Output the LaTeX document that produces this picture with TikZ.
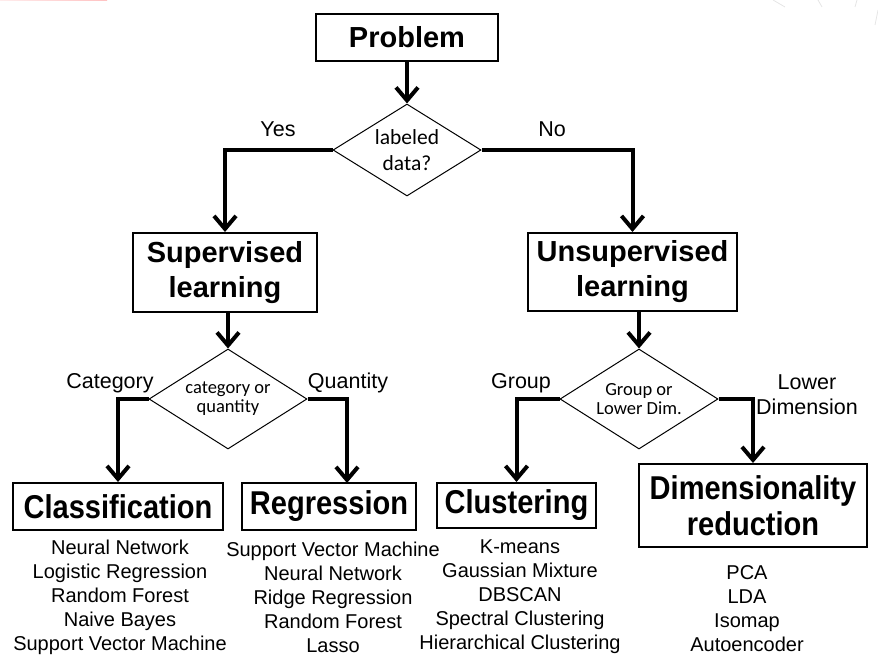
\documentclass[tikz,border=0pt]{standalone}
\usepackage{fontspec}
\setmainfont{Liberation Sans}
\newfontfamily\calibfont{Carlito}
\newfontfamily\tallfont[FakeStretch=0.88]{Liberation Sans}
\usetikzlibrary{shapes.geometric,arrows.meta}
\newcommand{\boxfont}{\fontsize{29}{35}\selectfont\bfseries}
\newcommand{\tallboxfont}{\tallfont\fontsize{33}{36}\selectfont\bfseries}
\newcommand{\diafont}{\calibfont\fontsize{18.5}{19}\selectfont}

\begin{document}
\begin{tikzpicture}[x=1pt,y=1pt,
	box/.style={draw, line width=2pt, inner sep=0pt, align=center, font=\boxfont},
	tallbox/.style={box, font=\tallboxfont},
	dia/.style={draw, diamond, line width=1pt, inner sep=0pt, minimum width=158pt, minimum height=100pt},
	diatext/.style={align=center, font=\diafont},
	answer/.style={align=center, font=\fontsize{21.5}{25}\selectfont},
	methods/.style={align=center, font=\fontsize{20}{24}\selectfont},
	flow/.style={line width=4pt, -{Straight Barb[length=13pt,width=22pt]}}]
	\useasboundingbox (0,0) rectangle (878,-661);

	% faint marks of the slide
	\shade[left color=pink!30, right color=pink!80!red!60] (0,0) rectangle (107,-0.9);
	\draw[gray!20, line width=0.8pt] (773,0) -- (785,-7);
	\draw[gray!20, line width=0.8pt] (818,0) -- (822,-7);
	\draw[gray!20, line width=0.8pt] (857,0) -- (855,-7);
	\draw[gray!20, line width=0.8pt] (878,-10) -- (875,-25);

	\node[box, minimum width=182pt, minimum height=47pt] (problem) at (407,-37.5) {Problem};
	\node[dia, minimum width=148pt, minimum height=92pt,
		label={[diatext, font=\calibfont\fontsize{21.5}{26}\selectfont]center:labeled\\data?}] (labeled) at (407,-150) {};

	\node[box, minimum width=184pt, minimum height=79pt] (sup) at (225,-272.5) {Supervised\\learning};
	\node[box, minimum width=209pt, minimum height=78pt] (unsup) at (632.5,-272) {Unsupervised\\learning};

	\node[dia, label={[diatext]center:category or\\quantity}] (catq) at (228,-399) {};
	\node[dia, label={[diatext]center:Group or\\Lower Dim.}] (groupq) at (639,-399) {};

	\node[tallbox, minimum width=210pt, minimum height=47pt] (class) at (118,-506.5) {Classification};
	\node[tallbox, minimum width=174pt, minimum height=47pt] (reg) at (329,-506.5) {Regression};
	\node[tallbox, minimum width=159pt, minimum height=45pt] (clus) at (516.5,-505.5) {Clustering};
	\node[tallbox, minimum width=228pt, minimum height=83pt] (dimred) at (753,-505.5) {Dimensionality\\reduction};
	\coordinate (regin) at (347,-483);

	\node[answer] (yes) at (278,-129) {Yes};
	\node[answer] (no) at (552,-129) {No};
	\node[answer] (category) at (110,-383) {Category};
	\node[answer] (quantity) at (348,-383) {Quantity};
	\node[answer] (group) at (521,-383) {Group};
	\node[answer] (lowerdim) at (807,-394.5) {Lower\\Dimension};

	\node[methods] (classlist) at (120,-597) {Neural Network\\Logistic Regression\\Random Forest\\Naive Bayes\\Support Vector Machine};
	\node[methods] (reglist) at (333,-597) {Support Vector Machine\\Neural Network\\Ridge Regression\\Random Forest\\Lasso};
	\node[methods] (cluslist) at (520,-597) {K-means\\Gaussian Mixture\\DBSCAN\\Spectral Clustering\\Hierarchical Clustering};
	\node[methods] (dimlist) at (747,-609) {PCA\\LDA\\Isomap\\Autoencoder};

	\draw[flow] (problem) -- (labeled);
	\draw[flow] (labeled.west) -| (sup.north);
	\draw[flow] (labeled.east) -| (unsup.north);
	\draw[flow] (sup.south -| catq.north) -- (catq.north);
	\draw[flow] (unsup.south -| groupq.north) -- (groupq.north);
	\draw[flow] (catq.west) -| (class.north);
	\draw[flow] (catq.east) -| (regin);
	\draw[flow] (groupq.west) -| (clus.north);
	\draw[flow] (groupq.east) -| (dimred.north);
\end{tikzpicture}
\end{document}
